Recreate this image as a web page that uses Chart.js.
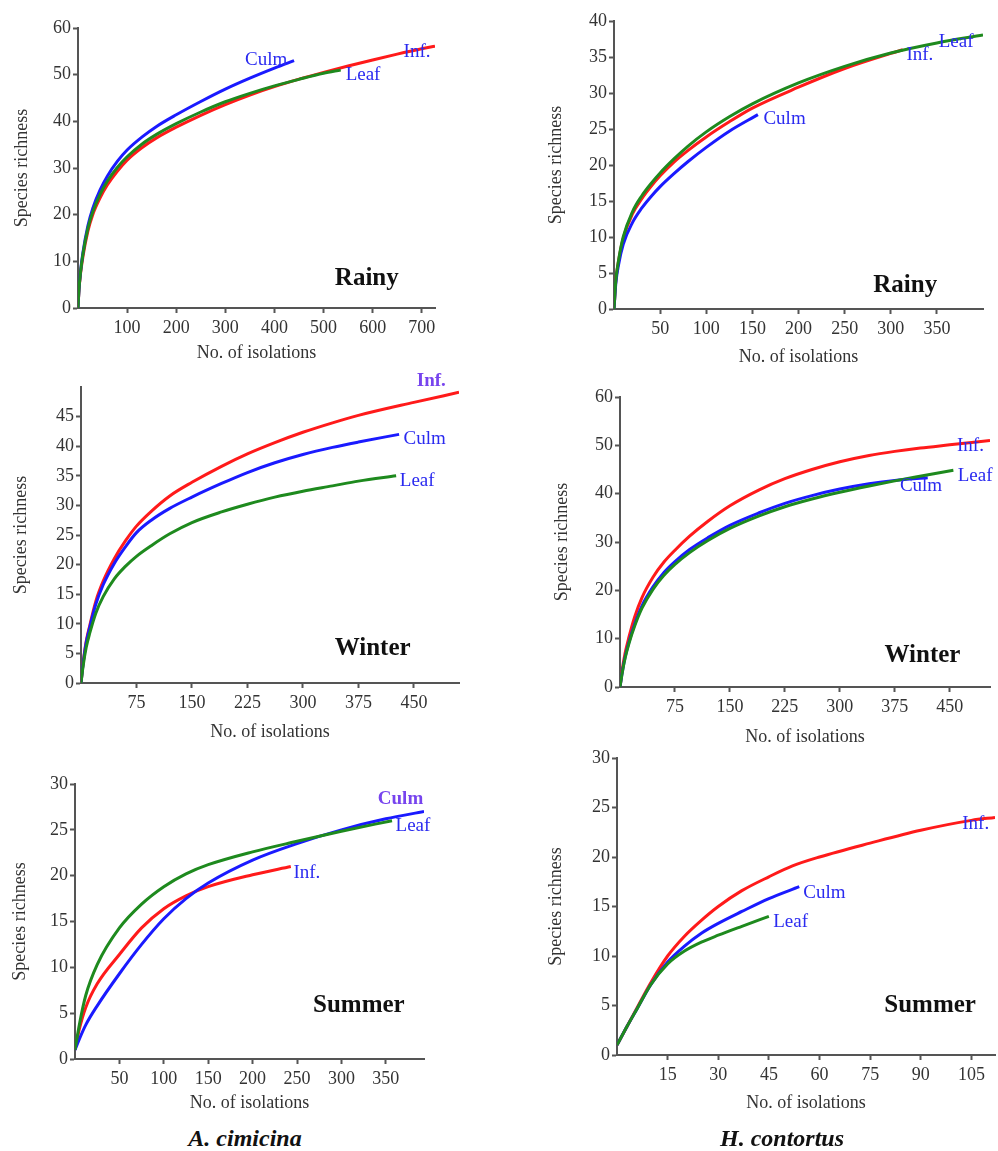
<!DOCTYPE html>
<html>
<head>
<meta charset="utf-8">
<script src="https://cdn.jsdelivr.net/npm/chart.js@4.4.1/dist/chart.umd.min.js"></script>
<style>
  body { margin: 0; background: #fff; }
  #page { position: relative; width: 998px; height: 1151px; overflow: hidden; }
  .panel { position: absolute; }
  .species {
    position: absolute; top: 1123px; width: 300px; text-align: center;
    font: italic bold 24px "Liberation Serif", serif; color: #111; line-height: 30px;
  }
</style>
</head>
<body>
<div id="page">
  <canvas id="p1" class="panel"></canvas>
  <canvas id="p2" class="panel"></canvas>
  <canvas id="p3" class="panel"></canvas>
  <canvas id="p4" class="panel"></canvas>
  <canvas id="p5" class="panel"></canvas>
  <canvas id="p6" class="panel"></canvas>
  <div class="species" style="left:95px">A. cimicina</div>
  <div class="species" style="left:632px">H. contortus</div>
</div>
<script>
// rarefaction curves: [no. of isolations, species richness]
const seriesNames = ['Leaf', 'Culm', 'Inf.'];

// A. cimicina - Rainy
const acRainyLeaf = [[0,0],[2,4],[5,7.5],[10,11.5],[20,17],[30,20.6],[45,24.35],[60,27.2],[80,30.1],[100,32.4],[130,35.1],[160,37.2],[200,39.5],[250,42],[300,44.2],[350,46],[400,47.6],[450,49],[500,50.3],[535,51]];
const acRainyCulm = [[0,0],[2,4],[5,7.7],[10,11.85],[20,17.55],[30,21.35],[45,25.3],[60,28.3],[80,31.4],[100,33.85],[130,36.6],[160,38.9],[200,41.4],[250,44.25],[300,46.9],[350,49.25],[400,51.4],[440,53]];
const acRainyInf  = [[0,0],[2,3.8],[5,7.2],[10,11],[20,16.4],[30,20],[45,23.6],[60,26.4],[80,29.3],[100,31.7],[130,34.35],[160,36.45],[200,38.75],[250,41.3],[300,43.6],[350,45.65],[400,47.45],[450,49.05],[500,50.5],[550,51.85],[600,53.15],[650,54.4],[700,55.55],[727,56.1]];

// H. contortus - Rainy
const hcRainyLeaf = [[0,0],[2,4],[5,6.8],[10,10],[20,13.5],[30,15.7],[40,17.4],[50,18.9],[65,20.85],[80,22.6],[100,24.6],[125,26.7],[150,28.5],[200,31.4],[250,33.7],[300,35.55],[350,36.95],[400,38.05]];
const hcRainyCulm = [[0,0],[2,3.6],[5,6.2],[10,9],[20,12],[30,14],[40,15.6],[50,17],[65,18.8],[80,20.45],[100,22.45],[125,24.7],[156,27]];
const hcRainyInf  = [[0,0],[2,4],[5,6.7],[10,9.8],[20,13.2],[30,15.3],[40,17],[50,18.5],[65,20.4],[80,22],[100,23.9],[125,26],[150,27.9],[200,30.8],[250,33.4],[300,35.5],[313,36]];

// A. cimicina - Winter
const acWinterLeaf = [[0,0],[3,3],[7,6],[12,8.5],[20,11.8],[30,14.6],[45,17.6],[60,19.7],[75,21.4],[95,23.2],[120,25.2],[150,27.1],[190,28.9],[225,30.2],[262,31.4],[300,32.4],[340,33.3],[375,34.1],[426,35]];
const acWinterCulm = [[0,0],[3,3.4],[7,6.8],[12,9.5],[20,13.3],[30,16.6],[45,20.2],[60,23],[75,25.4],[95,27.5],[120,29.5],[150,31.4],[190,33.7],[225,35.55],[262,37.2],[300,38.6],[340,39.8],[375,40.7],[430,42]];
const acWinterInf  = [[0,0],[3,3.5],[7,7],[12,9.8],[20,13.8],[30,17.2],[45,21],[60,24],[75,26.5],[95,29],[120,31.6],[150,33.9],[190,36.6],[225,38.7],[262,40.6],[300,42.35],[340,43.95],[375,45.2],[450,47.4],[511,49.1]];

// H. contortus - Winter
const hcWinterLeaf = [[0,0],[3,2.9],[7,6],[12,8.9],[20,12.6],[30,16.3],[45,20.2],[60,23.1],[75,25.35],[95,27.8],[120,30.3],[150,32.8],[190,35.4],[225,37.3],[262,38.9],[300,40.3],[340,41.6],[375,42.65],[415,43.75],[455,44.85]];
const hcWinterCulm = [[0,0],[3,3],[7,6.2],[12,9.2],[20,13],[30,16.8],[45,20.7],[60,23.7],[75,25.95],[95,28.45],[120,30.9],[150,33.45],[190,36.05],[225,38],[262,39.6],[300,40.95],[340,42.05],[375,42.75],[420,43.3]];
const hcWinterInf  = [[0,0],[3,3.5],[7,7],[12,10.2],[20,14.5],[30,18.5],[45,22.7],[60,25.85],[75,28.3],[95,31.2],[120,34.3],[150,37.5],[190,40.8],[225,43.1],[262,45],[300,46.6],[340,47.9],[375,48.75],[410,49.45],[450,50.1],[505,51]];

// A. cimicina - Summer
const acSummerLeaf = [[0,1],[5,3.8],[12,6.9],[25,10.3],[50,14.3],[75,16.9],[100,18.8],[125,20.2],[150,21.2],[200,22.6],[250,23.75],[300,24.85],[357,26]];
const acSummerCulm = [[0,1],[5,2.2],[12,3.7],[25,5.8],[50,9.3],[75,12.5],[100,15.3],[125,17.5],[150,19.2],[200,21.7],[250,23.5],[300,25],[350,26.2],[393,27]];
const acSummerInf  = [[0,1],[5,3.3],[12,5.6],[25,8.2],[50,11.4],[75,14.3],[100,16.4],[125,17.8],[150,18.8],[200,20.1],[243,21]];

// H. contortus - Summer
const hcSummerLeaf = [[0,1],[3,2.9],[6,4.7],[10,7.1],[15,9.2],[20,10.5],[25,11.4],[30,12.1],[37,13],[45,14]];
const hcSummerCulm = [[0,1],[3,2.9],[6,4.7],[10,7.1],[15,9.4],[20,11],[25,12.3],[30,13.3],[37,14.5],[45,15.8],[54,17]];
const hcSummerInf  = [[0,1],[3,2.9],[6,4.8],[10,7.3],[15,10],[20,12],[25,13.6],[30,15],[37,16.6],[45,18],[52,19.1],[60,20],[75,21.4],[90,22.7],[105,23.7],[112,24]];

// axis ranges: [max, step]
const acRainyAxes  = { x: [727, 100], y: [60, 10] };
const hcRainyAxes  = { x: [400, 50],  y: [40, 5] };
const acWinterAxes = { x: [511, 75],  y: [50, 5] };
const hcWinterAxes = { x: [505, 75],  y: [60, 10] };
const acSummerAxes = { x: [393, 50],  y: [30, 5] };
const hcSummerAxes = { x: [112, 15],  y: [30, 5] };

const colors = ['#1e8a1e', '#1a1aff', '#ff1a1a'];   // leaf, culm, inf
const labelBlue = '#2a2af0';
const labelPurple = '#7744ee';
const serif = '"Liberation Serif", "Times New Roman", serif';

// box = canvas [left, top, right, bottom], plot = chart area [left, top, right, bottom]
const panels = [
  { id: 'p1', box: [7, 0, 445, 368], plot: [78, 28, 435, 308], axes: acRainyAxes,
    series: [acRainyLeaf, acRainyCulm, acRainyInf], season: ['Rainy', 523, 6.4],
    labels: [['Culm', 340, 53.1], ['Inf.', 663, 54.9], ['Leaf', 545, 49.9]] },
  { id: 'p2', box: [541, 0, 995, 372], plot: [614, 21, 983, 309], axes: hcRainyAxes,
    series: [hcRainyLeaf, hcRainyCulm, hcRainyInf], season: ['Rainy', 281, 3.3],
    labels: [['Leaf', 352, 37.1], ['Inf.', 317, 35.3], ['Culm', 162, 26.4]] },
  { id: 'p3', box: [6, 368, 470, 747], plot: [81, 387, 459, 683], axes: acWinterAxes, hideYMax: true,
    series: [acWinterLeaf, acWinterCulm, acWinterInf], season: ['Winter', 343, 5.9],
    labels: [['Inf.', 454, 51, true], ['Culm', 436, 41.2], ['Leaf', 431, 34.1]] },
  { id: 'p4', box: [547, 375, 998, 752], plot: [620, 397, 990, 687], axes: hcWinterAxes,
    series: [hcWinterLeaf, hcWinterCulm, hcWinterInf], season: ['Winter', 361, 6.6],
    labels: [['Inf.', 460, 49.8], ['Leaf', 461, 43.6], ['Culm', 382, 41.5]] },
  { id: 'p5', box: [5, 762, 440, 1118], plot: [75, 784, 424, 1059], axes: acSummerAxes,
    series: [acSummerLeaf, acSummerCulm, acSummerInf], season: ['Summer', 268, 5.8],
    labels: [['Culm', 341, 28.4, true], ['Leaf', 361, 25.4], ['Inf.', 246, 20.3]] },
  { id: 'p6', box: [541, 740, 998, 1118], plot: [617, 758, 995, 1055], axes: hcSummerAxes,
    series: [hcSummerLeaf, hcSummerCulm, hcSummerInf], season: ['Summer', 79.2, 5.0],
    labels: [['Inf.', 102.3, 23.3], ['Culm', 55.2, 16.4], ['Leaf', 46.3, 13.4]] }
];

// curve names and season text, anchored in data units
const curveLabels = {
  id: 'curveLabels',
  afterDatasetsDraw(chart, args, opts) {
    const { ctx, scales: { x, y } } = chart;
    ctx.save();
    ctx.textAlign = 'left';
    ctx.textBaseline = 'middle';
    opts.labels.forEach(l => {
      ctx.font = (l[3] ? 'bold ' : '') + '19px ' + serif;
      ctx.fillStyle = l[3] ? labelPurple : labelBlue;
      ctx.fillText(l[0], x.getPixelForValue(l[1]), y.getPixelForValue(l[2]));
    });
    const s = opts.season;
    ctx.font = 'bold 25px ' + serif;
    ctx.fillStyle = '#111';
    ctx.fillText(s[0], x.getPixelForValue(s[1]), y.getPixelForValue(s[2]));
    ctx.restore();
  }
};

const axisColor = '#555';
const tickFont = { family: serif, size: 18 };
const titleFont = { family: serif, size: 18 };

panels.forEach(p => {
  const [bl, bt, br, bb] = p.box;
  const [pl, pt, pr, pb] = p.plot;
  const el = document.getElementById(p.id);
  el.width = br - bl;
  el.height = bb - bt;
  el.style.left = bl + 'px';
  el.style.top = bt + 'px';
  el.style.width = (br - bl) + 'px';
  el.style.height = (bb - bt) + 'px';

  const [xMax, xStep] = p.axes.x;
  const [yMax, yStep] = p.axes.y;
  const xHidden = v => v === 0 || v >= xMax;
  const yHidden = v => p.hideYMax && v >= yMax;

  new Chart(el, {
    type: 'line',
    data: {
      datasets: p.series.map((d, i) => ({
        label: seriesNames[i],
        data: d,
        borderColor: colors[i],
        borderWidth: 3,
        pointRadius: 0,
        fill: false,
        cubicInterpolationMode: 'monotone'
      }))
    },
    options: {
      responsive: false,
      animation: false,
      layout: { padding: { left: 0, top: pt - bt, right: br - pr, bottom: 0 } },
      scales: {
        x: {
          type: 'linear', min: 0, max: xMax,
          afterFit: s => { s.height = bb - pb; },
          border: { color: axisColor, width: 2 },
          grid: {
            drawOnChartArea: false, tickLength: 5, tickWidth: 2,
            tickColor: c => (c.tick && xHidden(c.tick.value)) ? 'rgba(0,0,0,0)' : axisColor
          },
          ticks: {
            stepSize: xStep, includeBounds: false, maxRotation: 0, padding: 4,
            color: '#333', font: tickFont,
            callback: v => xHidden(v) ? '' : v
          },
          title: { display: true, text: 'No. of isolations', color: '#333', font: titleFont }
        },
        y: {
          type: 'linear', min: 0, max: yMax,
          afterFit: s => { s.width = pl - bl; },
          border: { color: axisColor, width: 2 },
          grid: {
            drawOnChartArea: false, tickLength: 5, tickWidth: 2,
            tickColor: c => (c.tick && yHidden(c.tick.value)) ? 'rgba(0,0,0,0)' : axisColor
          },
          ticks: {
            stepSize: yStep, padding: 2, color: '#333', font: tickFont,
            callback: v => yHidden(v) ? '' : v
          },
          title: { display: true, text: 'Species richness', color: '#333', font: titleFont }
        }
      },
      plugins: {
        legend: { display: false },
        tooltip: { enabled: false },
        curveLabels: { labels: p.labels, season: p.season }
      }
    },
    plugins: [curveLabels]
  });
});
</script>
</body>
</html>
